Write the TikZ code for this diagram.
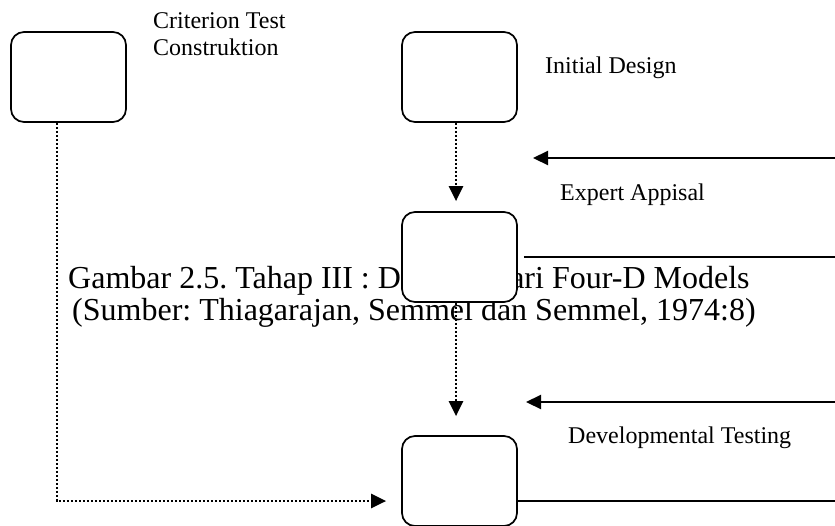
\documentclass[tikz,border=0pt]{standalone}
\usepackage{fontspec}
\setmainfont{Liberation Serif}
\usetikzlibrary{arrows.meta}
\frenchspacing
\begin{document}
\begin{tikzpicture}[x=1pt,y=-1pt,
  stage/.style={draw, fill=white, line width=1.7pt, rounded corners=13pt,
    minimum width=115pt, minimum height=90pt, inner sep=0pt},
  lbl/.style={font=\fontsize{24}{27}\selectfont, inner sep=0pt, anchor=base west, align=left},
  capt/.style={font=\fontsize{32}{31}\selectfont, inner sep=0pt, anchor=base west, align=left},
  tip/.style={-{Triangle[length=15pt,width=14pt]}},
  dotline/.style={tip, line width=2.6pt, dash pattern=on 2.2pt off 1.8pt},
  solidline/.style={line width=2.2pt}]
\useasboundingbox (0,0) rectangle (835,525);
\clip (0,0) rectangle (835,525);

% caption set behind the stage boxes
\node[capt] (cap1) at (68,288) {Gambar 2.5. Tahap III : Develop dari Four-D Models};
\node[capt] (cap2) at (72,320) {(Sumber: Thiagarajan, Semmel dan Semmel, 1974:8)};

% stage boxes
\node[stage] (crit) at (68.5,77) {};
\node[stage] (init) at (459.5,77) {};
\node[stage] (rev)  at (459.5,257) {};
\node[stage] (dev)  at (459.5,481) {};

% labels (a two-line node sits on the baseline of its last line)
\node[lbl] (lcrit) at (153,55) {Criterion Test\\Construktion};
\node[lbl] (linit) at (545,73) {Initial Design};
\node[lbl] (lexp)  at (560,200) {Expert Appisal};
\node[lbl] (ldev)  at (568,443) {Developmental Testing};

% free ends at the right margin
\coordinate (expR) at (835,158);
\coordinate (expL) at (533,158);
\coordinate (revR) at (835,257);
\coordinate (tstR) at (835,402);
\coordinate (tstL) at (526,402);
\coordinate (devR) at (835,501);

% dotted flow between stages
\draw[dotline, shorten >=10pt] ([xshift=-3.5pt]init.south) -- ([xshift=-3.5pt]rev.north);
\draw[dotline, shorten >=19pt] ([xshift=-3.5pt]rev.south) -- ([xshift=-3.5pt]dev.north);
\draw[dotline, shorten >=15pt] ([xshift=-11.5pt]crit.south) |- ([yshift=-20pt]dev.west);

% solid feedback lines
\draw[solidline, tip] (expR) -- (expL);
\draw[solidline, shorten <=6pt] (rev.east) -- (revR);
\draw[solidline, tip] (tstR) -- (tstL);
\draw[solidline] ([yshift=-20pt]dev.east) -- (devR);
\end{tikzpicture}
\end{document}
